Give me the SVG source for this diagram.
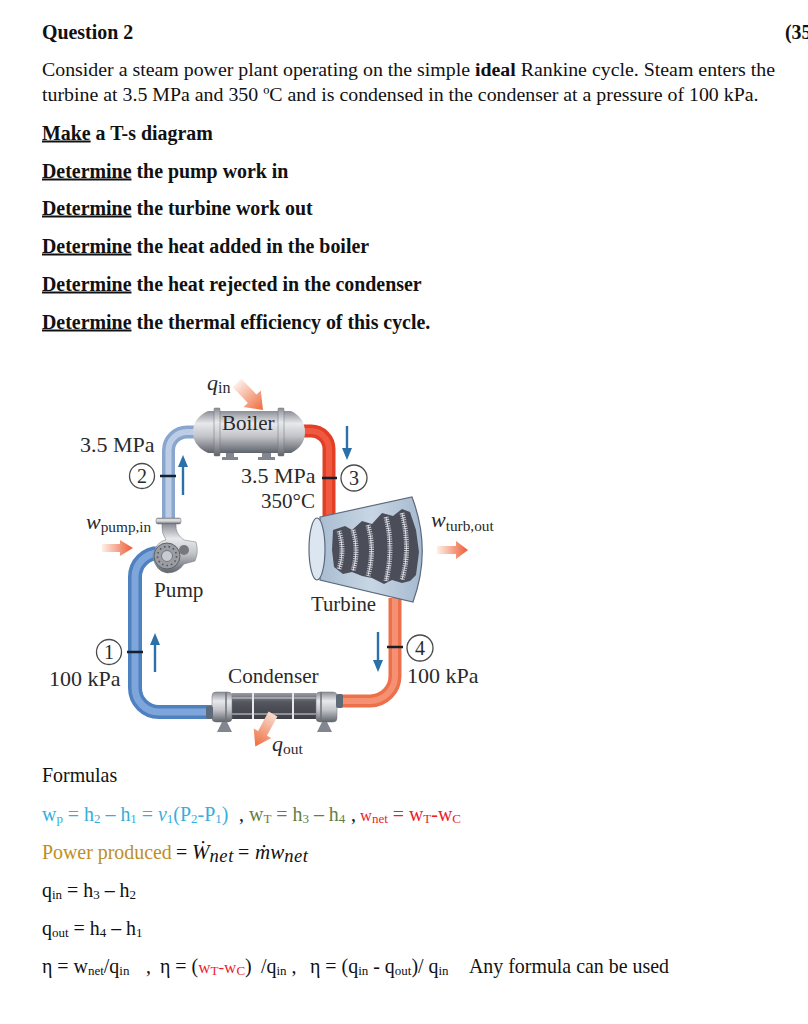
<svg xmlns="http://www.w3.org/2000/svg" width="808" height="1024" viewBox="0 0 808 1024">
<style>
text{font-family:"Liberation Serif","Times New Roman",serif;fill:#111}
.b{font-weight:700;font-size:19.9px}
.p{font-size:19.87px}
.u{text-decoration:underline}
.l{fill:#2a2a2a}
.f{font-size:19.9px}
.s{font-size:13px}
.i{font-style:italic}
.pipe{fill:none}
.tick{stroke:#14202c;stroke-width:2.4;fill:none}
.num{fill:#fff;stroke:#4a4a4a;stroke-width:1.3}
.flow{fill:none;stroke:#2b70a9;stroke-width:2.4}
.head{fill:#2b70a9}
.metal{stroke:#6f7378;stroke-width:.5}
.foot{fill:#82868e}
.cy{fill:#35aedc}.gr{fill:#5f8045}.rd{fill:#ec1c2c}.go{fill:#bd8f24}
.soft{filter:url(#soft)}
</style>
<defs>
<filter id="soft" x="-5%" y="-5%" width="110%" height="110%"><feGaussianBlur stdDeviation=".45"/></filter>
<linearGradient id="metal" x1="0" y1="0" x2="0" y2="1"><stop offset="0" stop-color="#8b8f96"/><stop offset=".3" stop-color="#e8e9ec"/><stop offset=".6" stop-color="#c2c4c9"/><stop offset="1" stop-color="#5f636b"/></linearGradient>
<linearGradient id="dark" x1="0" y1="0" x2="0" y2="1"><stop offset="0" stop-color="#9a9ca4"/><stop offset=".35" stop-color="#54565f"/><stop offset="1" stop-color="#3e3f48"/></linearGradient>
<linearGradient id="tb" x1="0" y1="0" x2="1" y2="0"><stop offset="0" stop-color="#a9bdd2"/><stop offset=".5" stop-color="#c8d6e4"/><stop offset="1" stop-color="#a5b9cf"/></linearGradient>
<linearGradient id="rOut" x1="0" y1="0" x2="1" y2="0"><stop offset="0" stop-color="#fdf0e8"/><stop offset="1" stop-color="#ee5a33"/></linearGradient>
<linearGradient id="rIn" gradientUnits="userSpaceOnUse" x1="237" y1="383" x2="263" y2="410"><stop offset="0" stop-color="#fdeee6"/><stop offset="1" stop-color="#ef6a3c"/></linearGradient>
<linearGradient id="rQ" gradientUnits="userSpaceOnUse" x1="273" y1="714" x2="255" y2="747"><stop offset="0" stop-color="#f7dccd"/><stop offset="1" stop-color="#ef6a3c"/></linearGradient>
</defs>

<g id="question">
<text class="b" x="42" y="38.500">Question 2</text>
<text class="b" x="785" y="38.500">(35</text>
<text class="p" x="42" y="76">Consider a steam power plant operating on the simple <tspan font-weight="700">ideal</tspan> Rankine cycle. Steam enters the</text>
<text class="p" x="42" y="101">turbine at 3.5 MPa and 350 ºC and is condensed in the condenser at a pressure of 100 kPa.</text>
<text class="b" x="42" y="139.500"><tspan class="u">Make</tspan> a T-s diagram</text>
<text class="b" x="42" y="177.500"><tspan class="u">Determine</tspan> the pump work in</text>
<text class="b" x="42" y="214.500"><tspan class="u">Determine</tspan> the turbine work out</text>
<text class="b" x="42" y="252.500"><tspan class="u">Determine</tspan> the heat added in the boiler</text>
<text class="b" x="42" y="290.500"><tspan class="u">Determine</tspan> the heat rejected in the condenser</text>
<text class="b" x="42" y="328.500"><tspan class="u">Determine</tspan> the thermal efficiency of this cycle.</text>
</g>

<g id="connectors">
<g class="soft">
<path class="pipe" d="M197 432H187A18.500 18.500 0 0 0 168.500 450.500V520" stroke="#8aa6cf" stroke-width="13"/>
<path class="pipe" d="M197 432H187A18.500 18.500 0 0 0 168.500 450.500V520" stroke="#bccde6" stroke-width="6"/>
<path class="pipe" d="M156 553H159A24 24 0 0 0 135 577V688A24 24 0 0 0 159 712H212" stroke="#4f80c0" stroke-width="14"/>
<path class="pipe" d="M156 553H159A24 24 0 0 0 135 577V688A24 24 0 0 0 159 712H212" stroke="#7ea6da" stroke-width="7"/>
<path class="pipe" d="M303 431H311A18 18 0 0 1 329 449V520" stroke="#e23f27" stroke-width="13"/>
<path class="pipe" d="M303 431H311A18 18 0 0 1 329 449V520" stroke="#f0593f" stroke-width="6"/>
<path class="pipe" d="M395 598V676A25 25 0 0 1 370 701H340" stroke="#ec7049" stroke-width="13"/>
<path class="pipe" d="M395 598V676A25 25 0 0 1 370 701H340" stroke="#f59072" stroke-width="6"/>
</g>
<path class="tick" d="M160 476H176M127 652H143M322 478H337M387 647H403"/>
<path class="flow" d="M183 495V464"/><path class="head" d="M183 455L188 467H178Z"/>
<path class="flow" d="M155 672V642"/><path class="head" d="M155 633L160 645H150Z"/>
<path class="flow" d="M347 426V452"/><path class="head" d="M347 460L342 448H352Z"/>
<path class="flow" d="M378 632V664"/><path class="head" d="M378 672L373 660H383Z"/>
</g>

<g id="boiler" class="soft">
<path d="M215 411H208Q193 418 193 432Q193 446 208 453H215Z" fill="url(#metal)"/>
<path d="M282 411H291Q305 418 305 432Q305 446 291 453H282Z" fill="url(#metal)"/>
<rect x="218" y="411" width="62" height="42" fill="url(#metal)"/>
<rect x="214" y="408" width="6" height="48" rx="1" fill="url(#metal)" class="metal"/>
<rect x="278" y="408" width="6" height="48" rx="1" fill="url(#metal)" class="metal"/>
<path class="foot" d="M226 453h8v4h4v3h-16v-3h4zM262 453h9v4h4v3h-17v-3h4z"/>
</g>

<g id="pump" class="soft">
<rect x="156" y="518" width="25" height="6" rx="2" fill="url(#metal)" class="metal"/>
<path d="M162 524H176Q175 534 184 540L196 542Q199 552 195 561L184 564Q178 573 167 573Q155 571 153 556Q156 541 166 540Q161 533 162 524Z" fill="url(#metal)" class="metal"/>
<circle cx="167" cy="556" r="13" fill="#9a9da4" stroke="#5e6168"/>
<circle cx="167" cy="556" r="9.500" fill="none" stroke="#55585f" stroke-width="1.600" stroke-dasharray="1.600 3"/>
<circle cx="167" cy="556" r="5.500" fill="#c9cbd0" stroke="#74777e"/>
<circle cx="184" cy="550" r="5" fill="#75787f"/>
</g>

<g id="turbine" class="soft">
<path d="M320 517L412 497Q432 550 413 602L320 580Z" fill="url(#tb)" stroke="#5c6a7c" stroke-width="1.200"/>
<ellipse cx="317" cy="549" rx="8" ry="31" fill="#dce6f0" stroke="#5c6a7c" stroke-width="1.200"/>
<path d="M333 530L345 526L352 530L362 521L372 524L382 513L393 516L402 509L410 512L416 530L419 552L416 575L410 581L402 583L392 580L384 584L372 578L362 576L352 572L343 574L334 567L332 550Z" fill="#4b4d58"/>
<g fill="none" stroke="#c2c4ce" stroke-width="5" stroke-dasharray="1.100 1.100">
<path d="M339 531Q345 550 339 569"/><path d="M353 530Q359 550 353 571"/><path d="M368 525Q375 550 368 576"/><path d="M386 517Q394 548 386 581"/><path d="M402 513Q411 548 402 580"/>
</g>
<g fill="none" stroke="#f0f0f4" stroke-width=".8">
<path d="M339 531Q345 550 339 569"/><path d="M353 530Q359 550 353 571"/><path d="M368 525Q375 550 368 576"/><path d="M386 517Q394 548 386 581"/><path d="M402 513Q411 548 402 580"/>
</g>
</g>

<g id="condenser" class="soft">
<rect x="232" y="693" width="84" height="26" fill="url(#dark)"/>
<path d="M253 693V719M293 693V719" stroke="#e8e9ee" stroke-width="2"/>
<path d="M232 698H316" stroke="#e8e9ee" stroke-width=".8"/>
<path d="M232 714H316" stroke="#d8d9de" stroke-width="1"/>
<rect x="212" y="692" width="20" height="30" rx="4" fill="url(#metal)" class="metal"/>
<rect x="316" y="692" width="21" height="30" rx="4" fill="url(#metal)" class="metal"/>
<path d="M226 692V722M321 692V722" stroke="#6f7378" stroke-width="1.500"/>
<rect x="336" y="694" width="7" height="14" rx="2" fill="#5f6a78"/>
<rect x="206" y="706" width="7" height="13" rx="2" fill="#5f6a78"/>
<path class="foot" d="M222 722h5l5 10h-15zM322 722h5l5 10h-15z"/>
</g>

<g id="heat-arrows" class="soft">
<path d="M241.300 378.800L256.500 394.600L260.800 390.500L263 410L243.600 407.100L247.900 403L232.700 387.200Z" fill="url(#rIn)"/>
<path d="M102 544H120V540L133 548L120 556V552H102Z" fill="url(#rOut)"/>
<path d="M437 546H456V541L468 550L456 559V554H437Z" fill="url(#rOut)"/>
<path d="M277.400 716.400L266.900 735.700L271.300 738.100L255.300 746.500L253.700 728.500L258.100 730.900L268.600 711.600Z" fill="url(#rQ)"/>
</g>

<g id="state-1"><circle class="num" cx="109" cy="652" r="12.500"/><text class="l" x="109" y="659" text-anchor="middle" font-size="20">1</text></g>
<g id="state-2"><circle class="num" cx="142" cy="476" r="12.500"/><text class="l" x="142" y="483" text-anchor="middle" font-size="20">2</text></g>
<g id="state-3"><circle class="num" cx="354" cy="478" r="13"/><text class="l" x="354" y="485" text-anchor="middle" font-size="20">3</text></g>
<g id="state-4"><circle class="num" cx="420" cy="648" r="13"/><text class="l" x="420" y="655" text-anchor="middle" font-size="20">4</text></g>

<g id="labels">
<text class="l" x="80" y="452" font-size="22">3.5 MPa</text>
<text class="l" x="222" y="430" font-size="21">Boiler</text>
<text class="l" x="241" y="483" font-size="22">3.5 MPa</text>
<text class="l" x="261" y="508" font-size="21">350°C</text>
<text class="l" x="154" y="597" font-size="21.200">Pump</text>
<text class="l" x="311" y="611" font-size="20.800">Turbine</text>
<text class="l" x="228" y="683" font-size="21.200">Condenser</text>
<text class="l" x="49" y="686" font-size="22">100 kPa</text>
<text class="l" x="407" y="683" font-size="22">100 kPa</text>
<text class="l i" x="207" y="390" font-size="22">q<tspan font-style="normal" font-size="16" dy="3">in</tspan></text>
<text class="l i" x="86" y="529" font-size="22">w<tspan font-style="normal" font-size="15.300" dy="3">pump,in</tspan></text>
<text class="l i" x="431" y="527" font-size="22">w<tspan font-style="normal" font-size="15.300" dy="4">turb,out</tspan></text>
<text class="l i" x="272" y="751" font-size="22">q<tspan font-style="normal" font-size="15.500" dy="3">out</tspan></text>
</g>

<g id="formulas">
<text class="f" x="42" y="782">Formulas</text>
<text class="f cy" x="42" y="821">w<tspan class="s" dy="2">p</tspan><tspan dy="-2"> = h</tspan><tspan class="s" dy="2">2</tspan><tspan dy="-2"> – h</tspan><tspan class="s" dy="2">1</tspan><tspan dy="-2"> = </tspan><tspan class="i">v</tspan><tspan class="s" dy="2">1</tspan><tspan dy="-2">(P</tspan><tspan class="s" dy="2">2</tspan><tspan dy="-2">-P</tspan><tspan class="s" dy="2">1</tspan><tspan dy="-2">)</tspan></text>
<text class="f" x="239" y="821">,</text>
<text class="f gr" x="249" y="821">w<tspan class="s" dy="2">T</tspan><tspan dy="-2"> = h</tspan><tspan class="s" dy="2">3</tspan><tspan dy="-2"> – h</tspan><tspan class="s" dy="2">4</tspan></text>
<text class="f" x="351" y="821">,</text>
<text class="rd" x="360" y="821" font-size="16.500">w<tspan class="s" dy="2">net</tspan><tspan dy="-2" font-size="19.900"> = w</tspan><tspan class="s" dy="2">T</tspan><tspan dy="-2" font-size="19.900">-w</tspan><tspan class="s" dy="2">C</tspan></text>
<text class="f go" x="42" y="859">Power produced</text>
<text class="f" x="176" y="859">=</text>
<text class="i" x="192" y="859" font-size="21">Ẇ<tspan font-size="18.500" letter-spacing=".6" dy="3">net</tspan></text>
<text class="f" x="238" y="859">=</text>
<text class="i" x="255" y="859" font-size="21">ṁw<tspan font-size="18.500" letter-spacing=".6" dy="3">net</tspan></text>
<text class="f" x="42" y="897">q<tspan class="s" dy="2">in</tspan><tspan dy="-2"> = h</tspan><tspan class="s" dy="2">3</tspan><tspan dy="-2"> – h</tspan><tspan class="s" dy="2">2</tspan></text>
<text class="f" x="42" y="935">q<tspan class="s" dy="2">out</tspan><tspan dy="-2"> = h</tspan><tspan class="s" dy="2">4</tspan><tspan dy="-2"> – h</tspan><tspan class="s" dy="2">1</tspan></text>
<text class="f" x="42" y="973">η = w<tspan class="s" dy="2">net</tspan><tspan dy="-2">/q</tspan><tspan class="s" dy="2">in</tspan></text>
<text class="f" x="146" y="973">,</text>
<text class="f" x="160" y="973">η = (<tspan class="rd" font-size="17">w</tspan><tspan class="s rd" dy="2">T</tspan><tspan class="rd" dy="-2" font-size="17">-w</tspan><tspan class="s rd" dy="2">C</tspan><tspan dy="-2">)</tspan></text>
<text class="f" x="261" y="973">/q<tspan class="s" dy="2">in</tspan><tspan dy="-2"> ,</tspan></text>
<text class="f" x="310" y="973">η = (q<tspan class="s" dy="2">in</tspan><tspan dy="-2"> - q</tspan><tspan class="s" dy="2">out</tspan><tspan dy="-2">)/ q</tspan><tspan class="s" dy="2">in</tspan></text>
<text class="f" x="469" y="973">Any formula can be used</text>
</g>
</svg>
